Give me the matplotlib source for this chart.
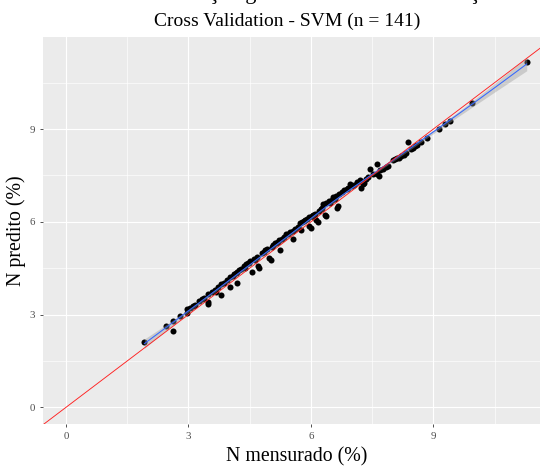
import numpy as np
import matplotlib
matplotlib.use("Agg")
import matplotlib.pyplot as plt

# Measured vs. predicted nitrogen (%) from SVM cross validation
n_mensurado = [
    1.92, 2.45, 2.63, 2.63, 2.79, 2.97, 2.97, 3.10, 3.16, 3.33,
    3.38, 3.49, 3.49, 3.49, 3.65, 3.67, 3.80, 3.86, 3.79, 4.02,
    4.02, 4.17, 4.19, 4.18, 4.36, 4.40, 4.45, 4.38, 4.51, 4.55,
    4.67, 4.71, 4.74, 4.88, 4.98, 5.02, 5.07, 5.12, 5.20, 5.25,
    5.40, 5.45, 5.57, 5.74, 5.78, 5.77, 5.90, 5.95, 6.02, 6.10,
    5.96, 6.00, 6.13, 6.17, 6.30, 6.36, 6.44, 6.37, 6.34, 6.55,
    6.62, 6.64, 6.66, 6.76, 6.82, 6.88, 6.96, 7.20, 7.25, 7.28,
    7.31, 7.22, 7.45, 7.63, 7.66, 7.62, 7.84, 7.90, 8.10, 8.16,
    8.22, 8.28, 8.33, 8.39, 8.45, 8.55, 8.60, 8.84, 9.15, 9.29,
    9.40, 9.94, 11.29, 3.05, 3.25, 3.58, 3.72, 3.95, 4.08, 4.25,
    4.30, 4.48, 4.60, 4.63, 4.80, 4.85, 4.93, 5.05, 5.15, 5.30,
    5.35, 5.50, 5.55, 5.62, 5.68, 5.82, 5.86, 6.05, 6.08, 6.20,
    6.24, 6.48, 6.52, 6.58, 6.70, 6.92, 7.00, 7.05, 7.12, 7.36,
    7.40, 7.52, 7.70, 7.76, 8.02, 8.06, 8.50, 8.70, 4.12, 5.22,
    6.27,
]
n_predito = [
    2.10, 2.63, 2.79, 2.46, 2.97, 3.17, 3.06, 3.29, 3.31, 3.52,
    3.55, 3.66, 3.40, 3.34, 3.81, 3.72, 3.99, 4.03, 3.63, 4.20,
    3.88, 4.35, 4.39, 4.03, 4.57, 4.62, 4.68, 4.50, 4.73, 4.38,
    4.87, 4.58, 4.50, 5.09, 4.83, 4.78, 5.26, 5.30, 5.36, 5.09,
    5.62, 5.60, 5.43, 5.96, 5.98, 5.75, 6.10, 6.15, 6.20, 6.25,
    5.85, 5.80, 6.05, 5.98, 6.58, 6.60, 6.66, 6.19, 6.22, 6.80,
    6.85, 6.45, 6.52, 6.96, 7.02, 7.05, 7.21, 7.35, 7.30, 7.22,
    7.26, 7.08, 7.70, 7.86, 7.48, 7.55, 7.76, 7.80, 8.05, 8.08,
    8.12, 8.16, 8.22, 8.57, 8.35, 8.44, 8.48, 8.70, 9.01, 9.16,
    9.27, 9.83, 11.16, 3.20, 3.45, 3.74, 3.90, 4.12, 4.26, 4.44,
    4.48, 4.66, 4.80, 4.76, 4.98, 5.02, 5.12, 5.20, 5.32, 5.45,
    5.52, 5.66, 5.70, 5.78, 5.84, 6.02, 6.06, 6.22, 6.16, 6.35,
    6.40, 6.62, 6.70, 6.74, 6.90, 7.10, 7.15, 7.18, 7.28, 7.40,
    7.45, 7.56, 7.68, 7.72, 8.00, 8.03, 8.40, 8.58, 4.30, 5.40,
    6.44,
]
tick_values = [0, 3, 6, 9]
minor_values = [1.5, 4.5, 7.5, 10.5]

x = np.asarray(n_mensurado, float)
y = np.asarray(n_predito, float)


def loess_fit(x, y, xs, span=0.75):
    """Local quadratic regression with tricube weights; returns fit and SE."""
    n = len(x)
    q = int(np.floor(n * span))

    def operator_row(x0):
        d = np.abs(x - x0)
        h = np.sort(d)[q - 1]
        w = np.clip(1 - (d / h) ** 3, 0, None) ** 3
        X = np.column_stack([np.ones(n), x - x0, (x - x0) ** 2])
        XtW = X.T * w
        return np.linalg.solve(XtW @ X, XtW)[0]

    L = np.array([operator_row(xi) for xi in x])
    resid = y - L @ y
    IL = np.eye(n) - L
    delta1 = np.trace(IL.T @ IL)
    sigma = np.sqrt(np.sum(resid ** 2) / delta1)
    rows = np.array([operator_row(x0) for x0 in xs])
    fit = rows @ y
    se = sigma * np.sqrt(np.sum(rows ** 2, axis=1))
    return fit, se


xs = np.linspace(x.min(), x.max(), 80)
fit, se = loess_fit(x, y, xs)
tcrit = 1.977

plt.rcParams["font.family"] = ["Liberation Serif", "DejaVu Serif"]

fig = plt.figure(figsize=(5.4, 4.66), dpi=100)
W, H = 540, 466
left_px, right_px, top_px, bottom_px = 43, 550, 37.3, 424
ax = fig.add_axes([left_px / W, 1 - bottom_px / H,
                   (right_px - left_px) / W, (bottom_px - top_px) / H])
ax.set_facecolor("#EBEBEB")
for s in ax.spines.values():
    s.set_visible(False)

ax.set_xlim(-0.564, 11.86)
ax.set_ylim(-0.54, 11.97)
ax.set_xticks(tick_values)
ax.set_yticks(tick_values)
ax.set_xticks(minor_values, minor=True)
ax.set_yticks(minor_values, minor=True)
ax.grid(which="major", color="white", linewidth=0.85)
ax.grid(which="minor", color="white", linewidth=0.45)
ax.set_axisbelow(True)
ax.tick_params(which="major", length=2.4, width=0.6, color="#333333",
               labelsize=7.8, labelcolor="#4D4D4D", pad=3.5)
ax.tick_params(which="minor", length=0)

ax.scatter(x, y, s=19, color="black", linewidths=0, zorder=3)
ax.fill_between(xs, fit - tcrit * se, fit + tcrit * se, color="#999999",
                alpha=0.4, linewidth=0, zorder=4)
ax.plot(xs, fit, color="#3366FF", linewidth=0.75, zorder=5)
ax.axline((0, 0), slope=1, color="#FF2020", linewidth=0.65, zorder=6)

fig.text(296.5 / W, 1 - 457 / H, "N mensurado (%)", ha="center",
         va="center", fontsize=14.3)
fig.text(16 / W, 1 - 230.5 / H, "N predito (%)", ha="center",
         va="center", rotation=90, fontsize=14.3)
fig.text(287.5 / W, 1 - 21 / H, "Cross Validation - SVM (n = 141)",
         ha="center", va="center", fontsize=14)
fig.text(274 / W, 1 + 1.5 / H, "Gráfico de correlação geral dos dados de validação",
         ha="center", va="baseline", fontsize=16)

fig.savefig("out.png", dpi=100)
